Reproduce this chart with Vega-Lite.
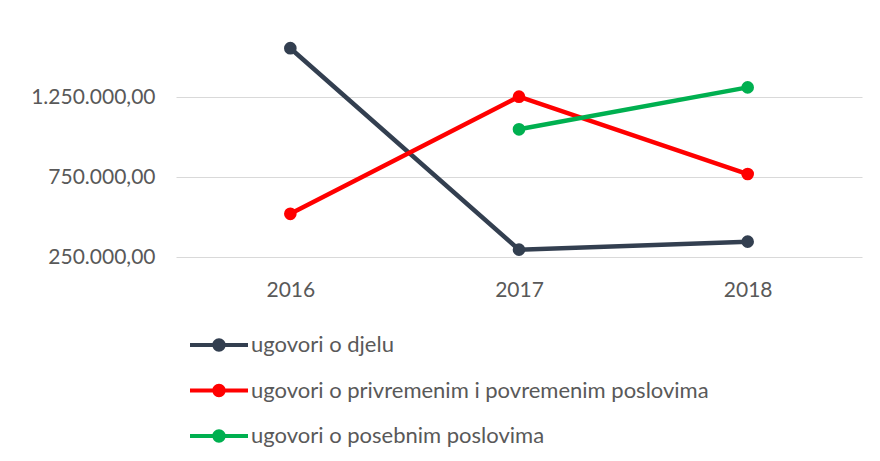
{
  "$schema": "https://vega.github.io/schema/vega-lite/v6.json",
  "autosize": {"type": "none"},
  "width": 686,
  "height": 240,
  "padding": {"left": 176, "top": 17, "right": 18, "bottom": 204},
  "background": "white",
  "config": {
    "locale": {"number": {"decimal": ",", "thousands": ".", "grouping": [3], "currency": ["", ""]}},
    "view": {"stroke": null},
    "font": "Lato"
  },
  "data": {
    "values": [
      {"year": "2016", "series": "ugovori o djelu", "value": 1555000},
      {"year": "2017", "series": "ugovori o djelu", "value": 296000},
      {"year": "2018", "series": "ugovori o djelu", "value": 346000},
      {"year": "2016", "series": "ugovori o privremenim i povremenim poslovima", "value": 520000},
      {"year": "2017", "series": "ugovori o privremenim i povremenim poslovima", "value": 1252000},
      {"year": "2018", "series": "ugovori o privremenim i povremenim poslovima", "value": 768500},
      {"year": "2017", "series": "ugovori o posebnim poslovima", "value": 1048000},
      {"year": "2018", "series": "ugovori o posebnim poslovima", "value": 1310000}
    ]
  },
  "mark": {"type": "line", "strokeWidth": 4.5, "point": {"filled": true, "size": 160, "opacity": 1}},
  "encoding": {
    "x": {
      "field": "year", "type": "ordinal",
      "scale": {"type": "point", "padding": 0.5},
      "axis": {"title": null, "labelAngle": 0, "domain": false, "ticks": false, "tickSize": 0, "labelPadding": 22,
               "labelFontSize": 21, "labelColor": "#595959", "labelFont": "Lato", "grid": false}
    },
    "y": {
      "field": "value", "type": "quantitative",
      "scale": {"domain": [250000, 1750000], "nice": false, "zero": false},
      "axis": {"title": null, "values": [250000, 750000, 1250000], "format": ",.2f", "domain": false, "ticks": false, "tickSize": 0,
               "labelPadding": 21, "labelFontSize": 21, "labelColor": "#595959", "labelFont": "Lato",
               "grid": true, "gridColor": "#D9D9D9", "gridWidth": 1.2}
    },
    "color": {
      "field": "series", "type": "nominal",
      "scale": {
        "domain": ["ugovori o djelu", "ugovori o privremenim i povremenim poslovima", "ugovori o posebnim poslovima"],
        "range": ["#333F50", "#FF0000", "#00B050"]
      },
      "legend": {
        "title": null, "orient": "none", "legendX": 14, "legendY": 299, "direction": "vertical",
        "labelFontSize": 22, "labelColor": "#595959", "labelFont": "Lato", "labelOffset": 3, "rowPadding": 5.5,
        "labelLimit": 700,
        "encode": {
          "symbols": {
            "update": {
              "shape": {"value": "M-1,-0.07L1,-0.07L1,0.07L-1,0.07Z M0.23,0 A0.23,0.23 0 1,1 -0.23,0 A0.23,0.23 0 1,1 0.23,0 Z"},
              "size": {"value": 3364},
              "fill": {"scale": "color", "field": "value"},
              "fillOpacity": {"value": 1},
              "strokeWidth": {"value": 0}
            }
          }
        }
      }
    }
  }
}
